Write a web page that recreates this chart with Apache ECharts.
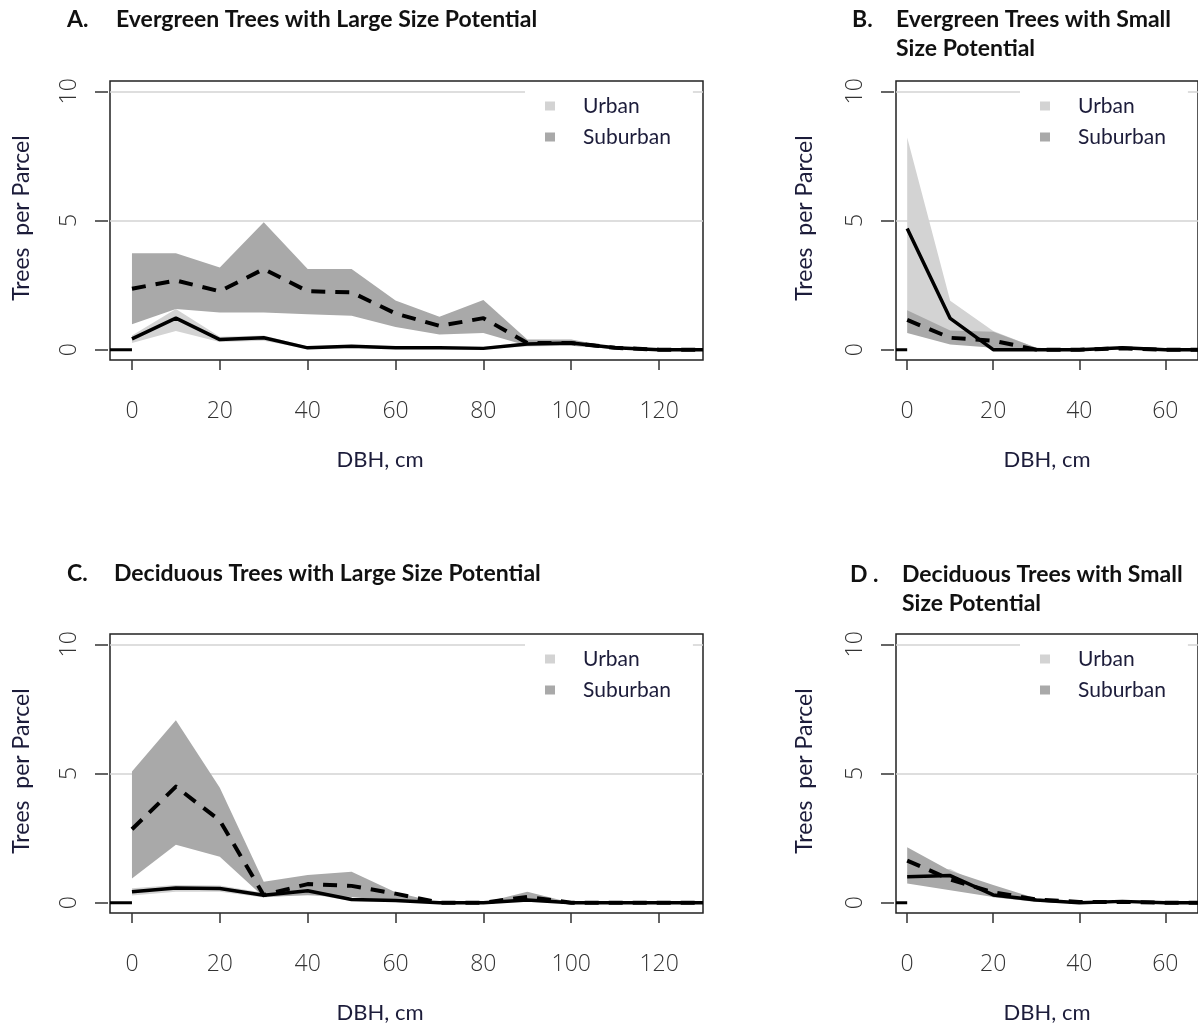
<!DOCTYPE html>
<html><head><meta charset="utf-8">
<script src="https://cdn.jsdelivr.net/npm/echarts@6/dist/echarts.min.js"></script>
<style>html,body{margin:0;padding:0;background:#fff}#c{width:1198px;height:1026px}</style>
</head><body><div id="c"></div>
<script>
// ---- data ----
const dbhLarge = [0,10,20,30,40,50,60,70,80,90,100,110,120,130];
const dbhSmall = [0,10,20,30,40,50,60,70];
const xTicksLarge = [0,20,40,60,80,100,120];
const xTicksSmall = [0,20,40,60];
const yTicks = [0,5,10];

// A. Evergreen, large
const urbanMeanA = [0.42,1.22,0.39,0.46,0.07,0.13,0.07,0.07,0.05,0.22,0.26,0.07,0,0];
const urbanLoA   = [0.26,0.72,0.30,0.35,0.03,0.06,0.03,0.03,0.02,0.12,0.15,0.03,0,0];
const urbanHiA   = [0.55,1.57,0.50,0.55,0.12,0.18,0.12,0.12,0.10,0.30,0.33,0.10,0,0];
const subMeanA   = [2.36,2.68,2.26,3.12,2.26,2.22,1.40,0.92,1.22,0.26,0.26,0.07,0,0];
const subLoA     = [0.98,1.57,1.44,1.44,1.37,1.31,0.88,0.59,0.65,0.15,0.15,0.03,0,0];
const subHiA     = [3.73,3.73,3.18,4.93,3.12,3.12,1.90,1.27,1.92,0.39,0.39,0.07,0,0];
// B. Evergreen, small
const urbanMeanB = [4.69,1.21,0,0,0,0.07,0,0];
const urbanLoB   = [1.20,0.55,0,0,0,0.02,0,0];
const urbanHiB   = [8.21,1.89,0.72,0.07,0,0.10,0,0];
const subMeanB   = [1.15,0.46,0.35,0,0,0.05,0,0];
const subLoB     = [0.65,0.20,0.07,0,0,0.02,0,0];
const subHiB     = [1.53,0.74,0.69,0.07,0,0.08,0,0];
// C. Deciduous, large
const urbanMeanC = [0.42,0.57,0.55,0.29,0.46,0.12,0.08,0,0,0.10,0,0,0,0];
const urbanLoC   = [0.28,0.42,0.42,0.20,0.35,0.06,0.03,0,0,0.03,0,0,0,0];
const urbanHiC   = [0.56,0.68,0.66,0.38,0.57,0.18,0.12,0,0,0.15,0,0,0,0];
const subMeanC   = [2.84,4.49,3.18,0.29,0.72,0.65,0.35,0,0,0.22,0,0,0,0];
const subLoC     = [0.94,2.24,1.78,0.22,0.29,0.22,0.05,0,0,0.08,0,0,0,0];
const subHiC     = [5.08,7.06,4.45,0.81,1.07,1.20,0.40,0,0,0.42,0,0,0,0];
// D. Deciduous, small
const urbanMeanD = [1.00,1.05,0.30,0.10,0,0.05,0,0];
const urbanLoD   = [0.85,0.90,0.20,0.05,0,0.02,0,0];
const urbanHiD   = [1.20,1.30,0.45,0.15,0.02,0.08,0,0];
const subMeanD   = [1.63,0.90,0.40,0.12,0.03,0.03,0,0];
const subLoD     = [0.74,0.48,0.22,0.03,0,0,0,0];
const subHiD     = [2.15,1.24,0.68,0.16,0.05,0.05,0,0];

const titles = [
  {tag:'A.', lines:['Evergreen Trees with Large Size Potential']},
  {tag:'B.', lines:['Evergreen Trees with Small','Size Potential']},
  {tag:'C.', lines:['Deciduous Trees with Large Size Potential']},
  {tag:'D .', lines:['Deciduous Trees with Small','Size Potential']}
];
const yTitle = 'Trees  per Parcel';
const xTitle = 'DBH, cm';
const legendNames = ['Urban','Suburban'];

// ---- layout ----
const panels = [
  {x:dbhLarge, xmin:-5, xmax:130, ticks:xTicksLarge, u:[urbanLoA,urbanHiA,urbanMeanA], s:[subLoA,subHiA,subMeanA],
   grid:{left:110, top:81, width:593, height:279}, tagX:67, titleX:116, titleY:20, legendLeft:525, yTitleX:22, xTitleX:380},
  {x:dbhSmall, xmin:-2.6, xmax:67.6, ticks:xTicksSmall, u:[urbanLoB,urbanHiB,urbanMeanB], s:[subLoB,subHiB,subMeanB],
   grid:{left:896, top:81, width:304, height:279}, tagX:852, titleX:896, titleY:20, legendLeft:1020, yTitleX:805, xTitleX:1047},
  {x:dbhLarge, xmin:-5, xmax:130, ticks:xTicksLarge, u:[urbanLoC,urbanHiC,urbanMeanC], s:[subLoC,subHiC,subMeanC],
   grid:{left:110, top:634, width:593, height:279}, tagX:67, titleX:114, titleY:574, legendLeft:525, yTitleX:22, xTitleX:380},
  {x:dbhSmall, xmin:-2.6, xmax:67.6, ticks:xTicksSmall, u:[urbanLoD,urbanHiD,urbanMeanD], s:[subLoD,subHiD,subMeanD],
   grid:{left:896, top:634, width:304, height:279}, tagX:850, titleX:902, titleY:575, legendLeft:1020, yTitleX:805, xTitleX:1047}
];

const URBAN_FILL = '#d3d3d3', SUB_FILL = '#a9a9a9';
const tickFont = {fontFamily:'Open Sans', fontWeight:300, fontSize:23, color:'#333'};
const labFont = 'Lato';
const labColor = '#1c1c3a';

// band polygon drawn through the axes' own scales
function bandRender(params, api) {
  if (params.dataIndexInside !== 0) return null;
  const n = params.dataInsideLength;
  const top = [], bot = [];
  for (let k = 0; k < n; k++) {
    const x = api.value(0, k);
    bot.push(api.coord([x, api.value(1, k)]));
    top.push(api.coord([x, api.value(2, k)]));
  }
  const pts = bot.concat(top.reverse());
  return {type:'polygon', shape:{points:pts}, style:{fill:api.visual('color'), stroke:null}, silent:true};
}

const grids = [], xAxes = [], yAxes = [], series = [], legends = [], graphics = [];
panels.forEach((p, i) => {
  grids.push(Object.assign({show:true, borderColor:'#222', borderWidth:1.5, backgroundColor:'transparent'}, p.grid));
  xAxes.push({gridIndex:i, type:'value', min:p.xmin, max:p.xmax,
    axisLine:{show:false, onZero:false},
    axisTick:{show:true, length:10, customValues:p.ticks, lineStyle:{color:'#333', width:1.5}},
    axisLabel:Object.assign({customValues:p.ticks, margin:40}, tickFont),
    splitLine:{show:false}});
  yAxes.push({gridIndex:i, type:'value', min:-0.4, max:10.4, offset:2,
    axisLine:{show:false, onZero:false},
    axisTick:{show:true, length:13, customValues:yTicks, lineStyle:{color:'#333', width:1.5}},
    axisLabel:Object.assign({customValues:yTicks, rotate:90, margin:27}, tickFont),
    splitLine:{show:false}});
  const pair = (arr) => p.x.map((x, k) => [x, arr[k]]);
  const band = (lo, hi) => p.x.map((x, k) => [x, lo[k], hi[k]]);
  const base = {xAxisIndex:i, yAxisIndex:i, silent:true, animation:false};
  // zero stub from the left box edge to x=0, carries the grey reference lines
  series.push(Object.assign({}, base, {type:'line', symbol:'none', name:'stub'+i, data:[[p.xmin,0],[0,0]],
    lineStyle:{color:'#000', width:3}, z:3,
    markLine:{silent:true, symbol:'none', z:1, label:{show:false}, animation:false,
      lineStyle:{color:'#d3d3d3', width:1.5, type:'solid'}, data:[{yAxis:5},{yAxis:10}]}}));
  series.push(Object.assign({}, base, {type:'custom', name:'Urban', data:band(p.u[0], p.u[1]),
    encode:{x:0, y:[1,2]}, itemStyle:{color:URBAN_FILL}, renderItem:bandRender, clip:true, z:2}));
  series.push(Object.assign({}, base, {type:'custom', name:'Suburban', data:band(p.s[0], p.s[1]),
    encode:{x:0, y:[1,2]}, itemStyle:{color:SUB_FILL}, renderItem:bandRender, clip:true, z:2}));
  series.push(Object.assign({}, base, {type:'line', symbol:'none', name:'uMean'+i, data:pair(p.u[2]), z:3,
    lineStyle:{color:'#000', width:3.5, join:'round'}}));
  series.push(Object.assign({}, base, {type:'line', symbol:'none', name:'sMean'+i, data:pair(p.s[2]), z:3,
    lineStyle:{color:'#000', width:4, type:[14,10], join:'round'}}));

  legends.push({data:legendNames, orient:'vertical', left:p.legendLeft, top:p.grid.top + 4,
    backgroundColor:'#fff', padding:[10,22,10,20], itemWidth:10, itemHeight:9, itemGap:9, icon:'rect',
    selectedMode:false,
    textStyle:{fontFamily:labFont, fontSize:21, color:labColor, lineHeight:22, padding:[0,0,0,23]}});

  // titles
  graphics.push({type:'text', x:p.tagX, y:p.titleY, silent:true,
    style:{text:titles[i].tag, font:'bold 23px Lato', fill:'#111', textVerticalAlign:'middle'}});
  titles[i].lines.forEach((ln, j) => graphics.push({type:'text', x:p.titleX, y:p.titleY + j*29, silent:true,
    style:{text:ln, font:'bold 23px Lato', fill:'#111', textVerticalAlign:'middle'}}));
  // axis titles
  const cy = p.grid.top + 137;
  graphics.push({type:'text', x:p.yTitleX, y:cy, rotation:Math.PI/2, silent:true,
    style:{text:yTitle, font:'23px Lato', fill:labColor, textAlign:'center', textVerticalAlign:'middle'}});
  graphics.push({type:'text', x:p.xTitleX, y:p.grid.top + 379, silent:true,
    style:{text:xTitle, font:'22px Lato', fill:labColor, textAlign:'center', textVerticalAlign:'middle'}});
});

const chart = echarts.init(document.getElementById('c'), null, {renderer:'canvas'});
chart.setOption({animation:false, backgroundColor:'#fff', grid:grids, xAxis:xAxes, yAxis:yAxes,
  series:series, legend:legends, graphic:graphics});
</script></body></html>
